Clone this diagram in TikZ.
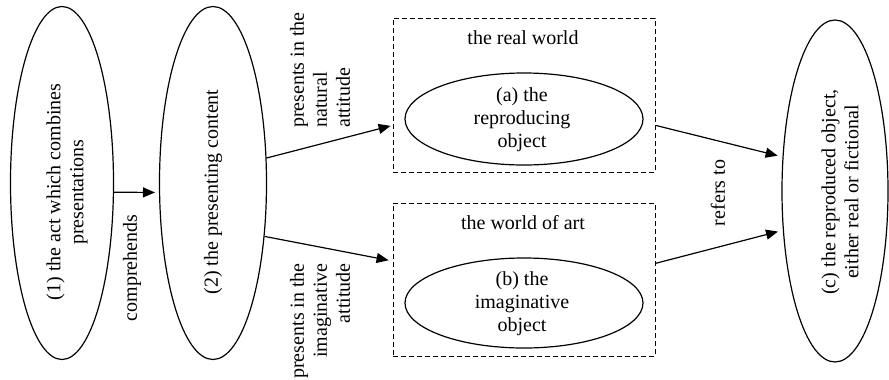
\documentclass[tikz,border=0pt]{standalone}
\usepackage{fontspec}
\setmainfont{Liberation Serif}
\usetikzlibrary{shapes.geometric,arrows.meta}
\begin{document}
\begin{tikzpicture}[x=1pt,y=-1pt,
  ell/.style={draw, ellipse, line width=1.2pt, inner sep=0pt},
  wbox/.style={draw, dash pattern=on 5pt off 3pt, line width=1pt, inner sep=0pt},
  txt/.style={font=\fontsize{20}{23}\selectfont, inner sep=0pt, align=center},
  rtxt/.style={txt, rotate=90},
  arr/.style={-{Triangle[length=12pt,width=10pt]}, line width=1.2pt}]
\useasboundingbox (0,0) rectangle (889,380);
\node[ell, minimum width=103pt, minimum height=353pt] (e1) at (62,183) {};
\node[rtxt] (t1) at (67,192) {(1) the act which combines\\presentations};
\node[ell, minimum width=107pt, minimum height=353pt] (e2) at (213,183) {};
\node[rtxt] (t2) at (213,192) {(2) the presenting content};
\node[wbox, minimum width=262pt, minimum height=154pt] (b1) at (524,95) {};
\node[wbox, minimum width=262pt, minimum height=153pt] (b2) at (524,279.5) {};
\node[txt] (w1) at (523,38) {the real world};
\node[txt] (w2) at (523,223) {the world of art};
\node[ell, minimum width=238pt, minimum height=92pt] (ea) at (524,119) {};
\node[txt] (ta) at (522,120) {(a) the\\reproducing\\object};
\node[ell, minimum width=238pt, minimum height=90pt] (eb) at (524,303) {};
\node[txt] (tb) at (522,304) {(b) the\\imaginative\\object};
\node[ell, minimum width=106pt, minimum height=342pt] (ec) at (835,191) {};
\node[rtxt] (tc) at (840,192) {(c) the reproduced object,\\either real or fictional};
\draw[arr, shorten >=4pt] (e1.-10) -- (e2.190);
\node[rtxt] (lc) at (132,268) {comprehends};
\draw[arr, shorten >=2pt] (e2.25) -- (b1.193);
\draw[arr, shorten >=4pt] (e2.-46) -- (b2.172);
\node[rtxt, align=left, anchor=west] (l1) at (320,128) {presents in the\\natural\\attitude};
\node[rtxt, align=right, anchor=east] (l2) at (320,263) {presents in the\\imaginative\\attitude};
\draw[arr, shorten >=5pt] (b1.-13) -- (ec.147);
\draw[arr, shorten >=5pt] (b2.7) -- (ec.217);
\node[rtxt] (lr) at (718,193) {refers to};
\end{tikzpicture}
\end{document}
